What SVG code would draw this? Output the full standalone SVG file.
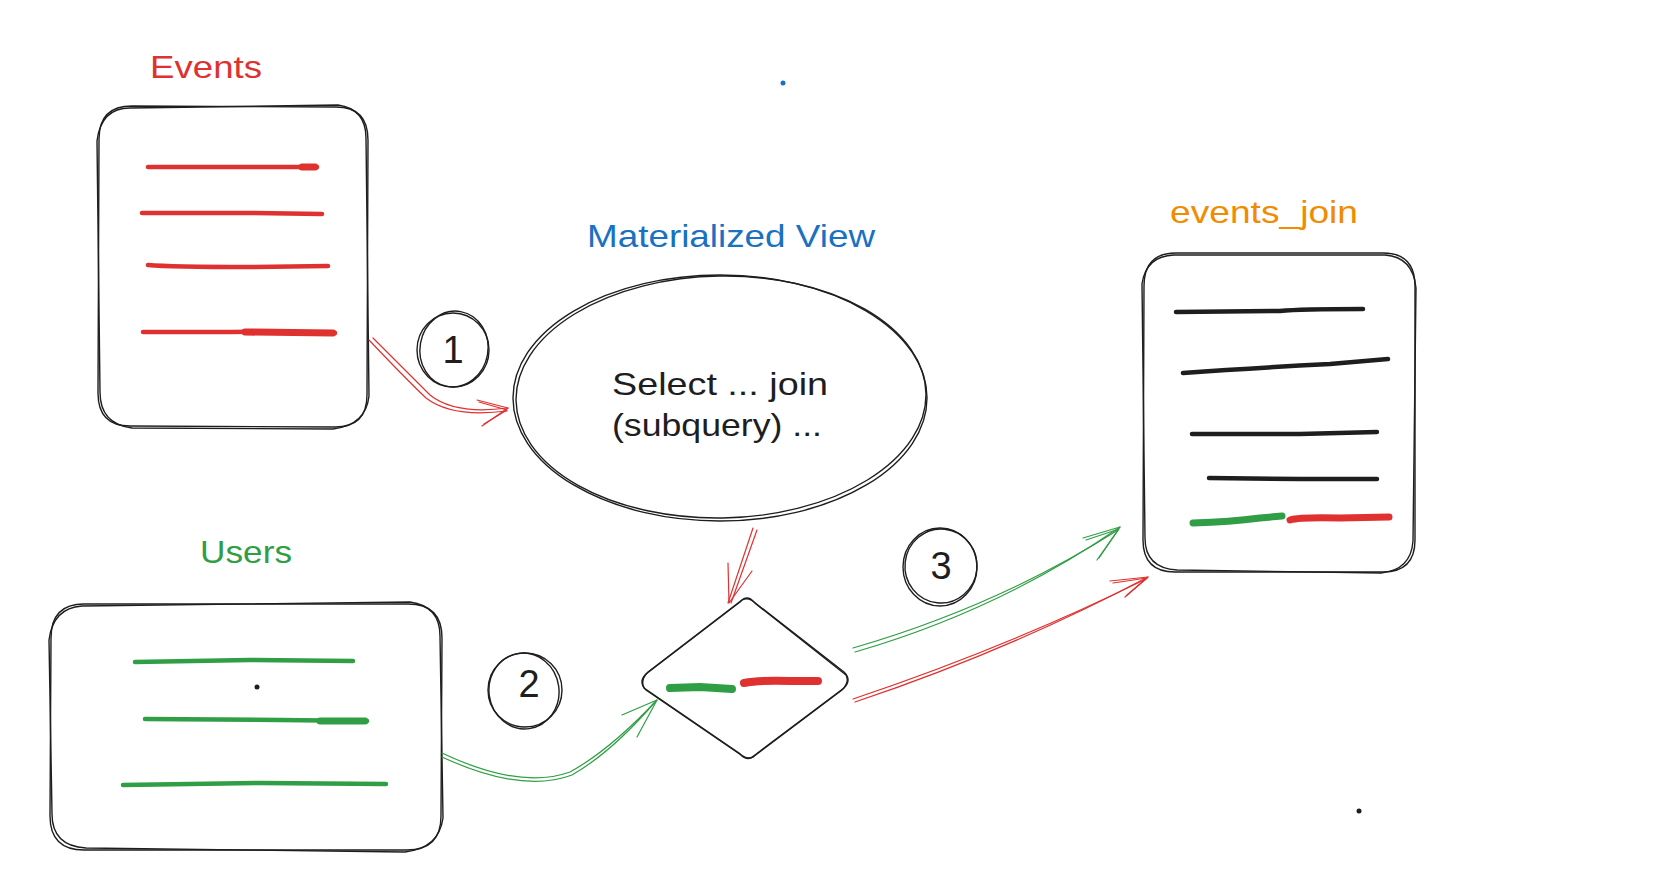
<svg xmlns="http://www.w3.org/2000/svg" width="1654" height="890" viewBox="0 0 1654 890">
<style>
.sk{fill:none;stroke:#1e1e1e;stroke-width:1.4;stroke-linecap:round;stroke-linejoin:round}
.bar{fill:none;stroke-width:4.5;stroke-linecap:round}
.thick{stroke-width:7}
.r{stroke:#e03131}.g{stroke:#2f9e44}.k{stroke:#1e1e1e}
.ar{fill:none;stroke-width:1.2;stroke-linecap:round;stroke-linejoin:round}
.t{font-family:"Liberation Sans",Arial,sans-serif;font-size:32px}
.d{font-family:"Liberation Sans",Arial,sans-serif;font-size:38px;fill:#1e1e1e;text-anchor:middle}
</style>
<rect width="1654" height="890" fill="#ffffff"/>

<g id="events">
<text class="t" x="150" y="78" fill="#e03131" textLength="112" lengthAdjust="spacingAndGlyphs">Events</text>
<path class="sk" d="M132 106 L336 107 Q368 107 368 140 L367 395 Q367 427 335 427 L130 426 Q98 426 98 393 L99 139 Q99 106 132 106 Z"/>
<path class="sk" d="M130 108 L338 105 Q366 109 366 138 L369 396 Q366 425 333 429 L132 428 Q100 424 100 392 L97 141 Q101 108 130 108 Z"/>
<path class="bar r" d="M148 167 L300 167 Q312 166 317 167"/>
<path class="bar r thick" d="M302 167 L315 167"/>
<path class="bar r" d="M142 213 L250 213 L322 214"/>
<path class="bar r" d="M148 265 Q170 267 250 267 L328 266"/>
<path class="bar r" d="M143 332 L230 332 Q260 331 300 333 L335 333"/>
<path class="bar r thick" d="M245 332 L333 333"/>
</g>

<g id="mv">
<text class="t" x="587" y="247" fill="#1971c2" textLength="288" lengthAdjust="spacingAndGlyphs">Materialized View</text>
<ellipse class="sk" cx="720" cy="398" rx="207" ry="123"/>
<ellipse class="sk" cx="721" cy="397" rx="205" ry="121" transform="rotate(-1 721 397)"/>
<text class="t" x="612" y="395" fill="#1e1e1e" textLength="216" lengthAdjust="spacingAndGlyphs">Select ... join</text>
<text class="t" x="612" y="436" fill="#1e1e1e" textLength="210" lengthAdjust="spacingAndGlyphs">(subquery) ...</text>
</g>

<g id="events_join">
<text class="t" x="1170" y="223" fill="#f08c00" textLength="188" lengthAdjust="spacingAndGlyphs">events_join</text>
<path class="sk" d="M1176 253 L1383 253 Q1415 253 1415 286 L1415 540 Q1415 572 1383 572 L1175 572 Q1143 572 1143 540 L1144 286 Q1144 253 1176 253 Z"/>
<path class="sk" d="M1174 255 L1385 255 Q1413 257 1416 288 L1413 541 Q1411 570 1381 573 L1177 570 Q1145 568 1145 538 L1142 284 Q1146 256 1174 255 Z"/>
<path class="bar k" d="M1176 312 L1280 311 Q1300 309 1363 309"/>
<path class="bar k" d="M1183 373 Q1250 368 1330 364 L1388 359"/>
<path class="bar k" d="M1192 434 L1300 434 L1377 432"/>
<path class="bar k" d="M1209 478 L1300 479 L1377 479"/>
<path class="bar g thick" d="M1193 523 Q1230 522 1260 518 L1282 516"/>
<path class="bar r thick" d="M1290 520 Q1300 517 1340 518 L1389 517"/>
</g>

<g id="users">
<text class="t" x="200" y="563" fill="#2f9e44" textLength="92" lengthAdjust="spacingAndGlyphs">Users</text>
<path class="sk" d="M84 604 L408 604 Q442 604 442 638 L441 816 Q441 850 407 850 L84 850 Q50 850 50 816 L51 638 Q51 604 84 604 Z"/>
<path class="sk" d="M82 606 L410 602 Q440 606 440 636 L443 818 Q439 848 405 852 L86 848 Q52 846 52 814 L49 640 Q53 608 82 606 Z"/>
<path class="bar g" d="M135 662 L250 660 L353 661"/>
<path class="bar g" d="M145 719 L280 720 L367 721"/>
<path class="bar g thick" d="M320 721 L365 721"/>
<path class="bar g" d="M123 785 L260 783 L386 784"/>
<circle cx="257" cy="687" r="2.5" fill="#1e1e1e"/>
</g>

<g id="join">
<path class="sk" d="M740 602 Q747 594 754 602 L844 672 Q852 680 844 688 L755 755 Q748 762 741 755 L646 690 Q638 682 646 674 Z"/>
<path class="sk" d="M742 600 Q749 596 756 604 L846 675 Q850 682 842 690 L753 757 Q746 760 739 753 L644 688 Q640 680 648 672 Z"/>
<path class="bar g" style="stroke-width:8" d="M670 688 L700 687 L732 689"/>
<path class="bar r" style="stroke-width:8" d="M744 683 Q760 680 790 681 L818 681"/>
</g>

<g id="step1">
<ellipse class="sk" cx="453" cy="350" rx="36" ry="37"/>
<ellipse class="sk" cx="454" cy="349" rx="34" ry="38" transform="rotate(10 454 349)"/>
<text class="d" x="453" y="363">1</text>
</g>
<g id="step2">
<ellipse class="sk" cx="525" cy="690" rx="37" ry="37"/>
<ellipse class="sk" cx="524" cy="691" rx="35" ry="38" transform="rotate(-8 524 691)"/>
<text class="d" x="529" y="697">2</text>
</g>
<g id="step3">
<ellipse class="sk" cx="940" cy="567" rx="37" ry="39"/>
<ellipse class="sk" cx="941" cy="566" rx="36" ry="37" transform="rotate(6 941 566)"/>
<text class="d" x="941" y="579">3</text>
</g>

<g id="connectors">
<g class="ar" stroke="#e03131">
<path d="M373 338 Q410 375 430 395 Q455 415 508 408"/>
<path d="M369 340 Q406 379 426 398 Q452 418 507 411"/>
<path d="M477 400 L508 408 L482 426"/>
<path d="M479 402 L507 410 L484 424"/>
</g>
<g class="ar" stroke="#e03131">
<path d="M753 528 L728 603"/>
<path d="M757 530 L731 603"/>
<path d="M728 563 L729 603 L752 571"/>
</g>
<g class="ar" stroke="#2f9e44">
<path d="M442 753 Q520 790 570 772 Q610 750 657 700"/>
<path d="M442 757 Q522 794 572 775 Q612 752 655 702"/>
<path d="M622 715 L657 700 L637 737"/>
</g>
<g class="ar" stroke="#2f9e44">
<path d="M855 652 Q1000 610 1120 527"/>
<path d="M853 648 Q998 606 1118 530"/>
<path d="M1083 538 L1120 527 L1097 560"/>
<path d="M1086 540 L1119 529 L1099 558"/>
</g>
<g class="ar" stroke="#e03131">
<path d="M855 702 Q1010 650 1148 577"/>
<path d="M853 699 Q1008 647 1146 579"/>
<path d="M1110 581 L1148 577 L1125 597"/>
<path d="M1113 583 L1147 578 L1127 595"/>
</g>
</g>

<circle cx="783" cy="83" r="2.5" fill="#1971c2"/>
<circle cx="1359" cy="811" r="2.5" fill="#1e1e1e"/>
</svg>
